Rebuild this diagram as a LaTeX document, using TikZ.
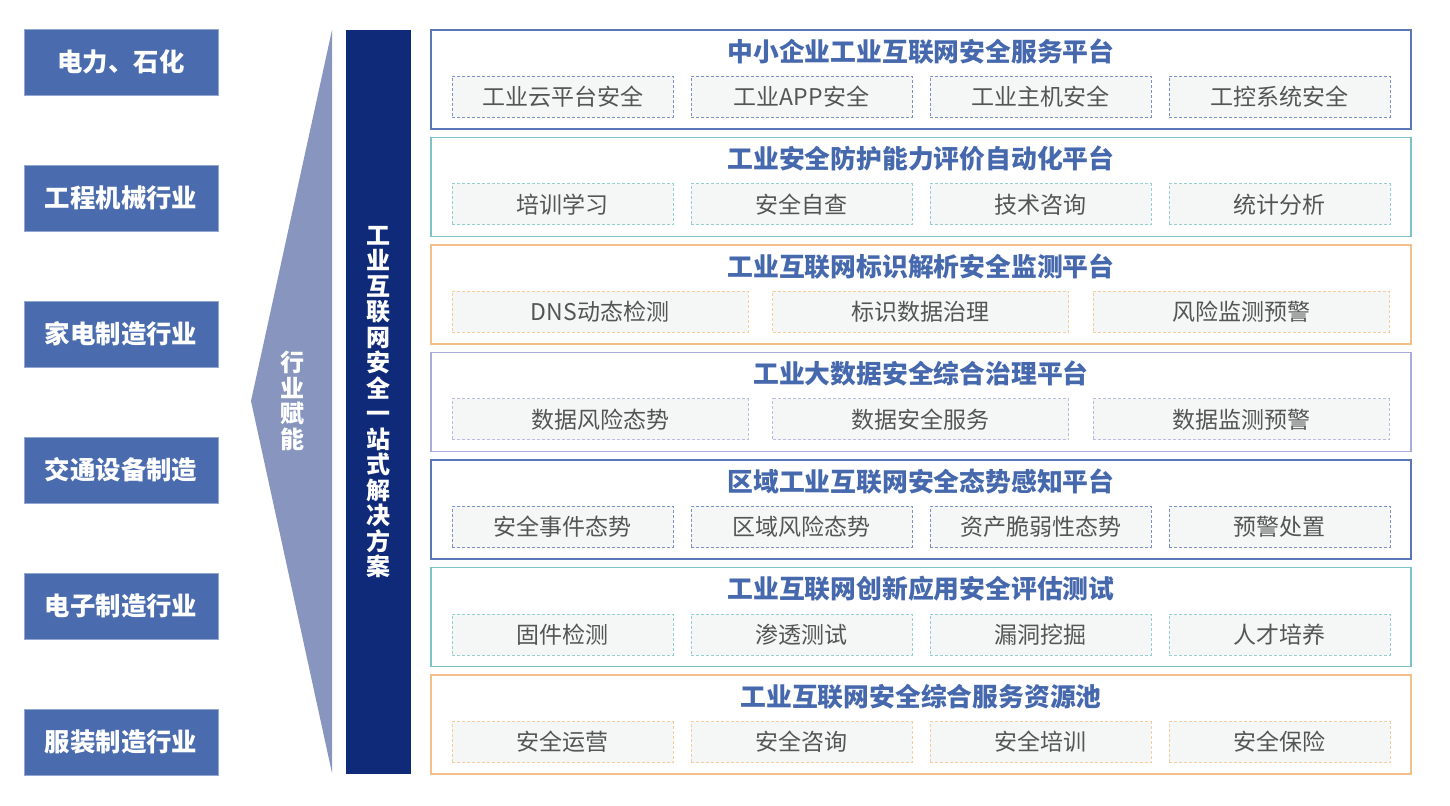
\documentclass[tikz,border=0pt]{standalone}
\usepackage{fontspec}
\setmainfont{Noto Sans CJK SC}

\definecolor{indblue}{HTML}{4A6CAE}
\definecolor{wedgeblue}{HTML}{8795BF}
\definecolor{barnavy}{HTML}{0F2A78}
\definecolor{ttlblue}{HTML}{4668AD}
\definecolor{pblue}{HTML}{5B77B7}
\definecolor{pteal}{HTML}{7DC2C6}
\definecolor{porange}{HTML}{F3C08A}
\definecolor{plilac}{HTML}{A9ADDA}
\definecolor{subfill}{HTML}{F5F7F7}
\definecolor{subtext}{HTML}{555555}

\begin{document}
\begin{tikzpicture}[x=0.5pt, y=-0.5pt,
  industry/.style={fill=indblue, draw=indblue!60!white, line width=0.4pt,
    text=white, minimum width=97pt, minimum height=33pt, inner sep=0pt,
    font=\bfseries\fontsize{12.7}{13}\selectfont},
  vtext/.style={text=white, align=center, inner sep=0pt,
    font=\bfseries\fontsize{12}{12.75}\selectfont},
  panel/.style={line width=0.75pt, minimum width=490pt, minimum height=49.5pt,
    inner sep=0pt},
  ptitle/.style={text=ttlblue, inner sep=0pt,
    font=\bfseries\fontsize{12.9}{13}\selectfont},
  subbox/.style={fill=subfill, line width=0.5pt, dash pattern=on 1.5pt off 1pt,
    minimum height=20.5pt, inner sep=0pt, text=subtext,
    font=\fontsize{11.5}{12}\selectfont}]
  \useasboundingbox (0,0) rectangle (1450,806);

  % industries on the left
  \foreach \lbl [count=\k] in {电力、石化, 工程机械行业, 家电制造行业,
      交通设备制造, 电子制造行业, 服装制造行业}
    \node[industry] (ind\k) at (121, {62+136*(\k-1)}) {\lbl};

  % wedge and the solution bar
  \fill[wedgeblue] (332,30) -- (251,401) -- (332,773) -- cycle;
  \node[vtext] (enable) at (292,401) {行\\业\\赋\\能};
  \node[fill=barnavy, minimum width=32.5pt, minimum height=372pt, inner sep=0pt]
    (bar) at (378.5,402) {};
  \node[vtext] (solution) at (bar.center)
    {工\\业\\互\\联\\网\\安\\全\\一\\站\\式\\解\\决\\方\\案};

  % platforms
  \foreach \row/\clr/\xa/\dx/\w/\ttl/\items in {
      1/pblue/562.5/239/110.5/中小企业工业互联网安全服务平台/{工业云平台安全,工业APP安全,工业主机安全,工控系统安全},
      2/pteal/562.5/239/110.5/工业安全防护能力评价自动化平台/{培训学习,安全自查,技术咨询,统计分析},
      3/porange/600/320.5/148/工业互联网标识解析安全监测平台/{DNS动态检测,标识数据治理,风险监测预警},
      4/plilac/600/320.5/148/工业大数据安全综合治理平台/{数据风险态势,数据安全服务,数据监测预警},
      5/pblue/562.5/239/110.5/区域工业互联网安全态势感知平台/{安全事件态势,区域风险态势,资产脆弱性态势,预警处置},
      6/pteal/562.5/239/110.5/工业互联网创新应用安全评估测试/{固件检测,渗透测试,漏洞挖掘,人才培养},
      7/porange/562.5/239/110.5/工业互联网安全综合服务资源池/{安全运营,安全咨询,安全培训,安全保险}} {
    \node[panel, draw=\clr] (p\row) at (921, {79.5+107.5*(\row-1)}) {};
    \node[ptitle] (t\row) at ([yshift=-11pt]p\row.north) {\ttl};
    \foreach \item [count=\j] in \items
      \node[subbox, draw=\clr!80!white, minimum width=\w pt] (s\row-\j)
        at ({\xa+\dx*(\j-1)}, {97+107.5*(\row-1)}) {\item};
  }
\end{tikzpicture}
\end{document}
